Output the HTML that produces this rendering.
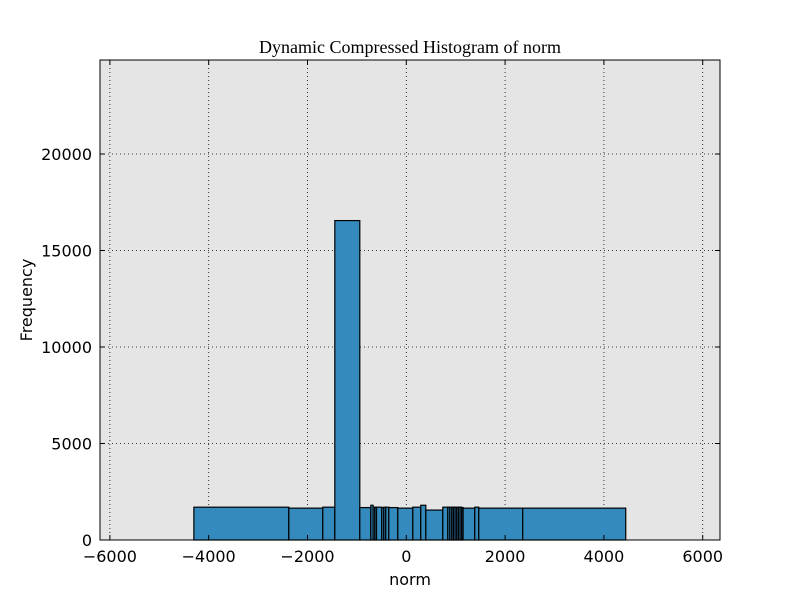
<!DOCTYPE html>
<html><head><meta charset="utf-8"><style>
body{margin:0;background:#fff;}
svg{display:block;}
text{font-family:"DejaVu Sans","Liberation Sans",sans-serif;}
</style></head><body>
<svg id="chart" width="800" height="600">
<rect x="0" y="0" width="800" height="600" fill="#fff"/>
<rect x="100" y="60" width="620" height="480" fill="#e5e5e5"/>
<g id="grid"></g>
<g id="bars"></g>
<rect x="100" y="60" width="620" height="480" fill="none" stroke="#000" stroke-width="1"/>
<g id="ticks"></g>
<text x="410" y="53" text-anchor="middle" font-size="18" style="font-family:'Liberation Serif',serif">Dynamic Compressed Histogram of norm</text>
<text x="410" y="585" text-anchor="middle" font-size="16">norm</text>
<text x="32" y="300" text-anchor="middle" font-size="16" transform="rotate(-90 32 300)">Frequency</text>
</svg>
<script>
const binEdges=[-4300,-2378,-1690,-1447,-941,-718,-672,-637,-603,-496,-455,-415,-354,-172,132,293,395,739,840,881,921,955,988,1022,1056,1089,1123,1150,1386,1467,2357,4442];
const binCounts=[1700,1650,1700,16550,1680,1800,1700,1700,1700,1680,1700,1700,1680,1650,1700,1800,1550,1700,1700,1700,1700,1700,1700,1700,1700,1700,1680,1650,1700,1650,1650];
const xTicks=[-6000,-4000,-2000,0,2000,4000,6000];
const yTicks=[0,5000,10000,15000,20000];
const xMin=-6200,xMax=6350,yMin=0,yMax=24870;
const L=100,R=720,T=60,B=540;
const sx=v=>L+(v-xMin)/(xMax-xMin)*(R-L);
const sy=v=>B-(v-yMin)/(yMax-yMin)*(B-T);
const NS="http://www.w3.org/2000/svg";
const grid=document.getElementById('grid'),bars=document.getElementById('bars'),ticks=document.getElementById('ticks');
function mk(tag,attrs,parent){const e=document.createElementNS(NS,tag);for(const k in attrs)e.setAttribute(k,attrs[k]);parent.appendChild(e);return e;}
xTicks.forEach(t=>{
  const x=sx(t);
  const g=mk('line',{x1:x,x2:x,y1:T,y2:B,stroke:'#000','stroke-dasharray':'1,3','stroke-width':0.8},grid);
  
  
  mk('line',{x1:x,x2:x,y1:B,y2:B-5,stroke:'#000'},ticks);
  mk('line',{x1:x,x2:x,y1:T,y2:T+5,stroke:'#000'},ticks);
  const lb=mk('text',{x:x,y:B+22,'text-anchor':'middle','font-size':16},ticks);
  lb.textContent=(t<0?'\u2212'+(-t):t);
  
  
});
yTicks.forEach(t=>{
  const y=sy(t);
  const g=mk('line',{x1:L,x2:R,y1:y,y2:y,stroke:'#000','stroke-dasharray':'1,3','stroke-width':0.8},grid);
  
  
  mk('line',{x1:L,x2:L+5,y1:y,y2:y,stroke:'#000'},ticks);
  mk('line',{x1:R,x2:R-5,y1:y,y2:y,stroke:'#000'},ticks);
  const lb=mk('text',{x:L-8,y:y+6,'text-anchor':'end','font-size':16},ticks);
  lb.textContent=t;
  
  
});
binCounts.forEach((c,i)=>{
  const x0=sx(binEdges[i]),x1=sx(binEdges[i+1]);
  const r=mk('rect',{x:x0,y:sy(c),width:Math.max(x1-x0,0.1),height:sy(0)-sy(c),fill:'#348abd',stroke:'#000','stroke-width':1.2},bars);
  
  
});
</script>
</body></html>
